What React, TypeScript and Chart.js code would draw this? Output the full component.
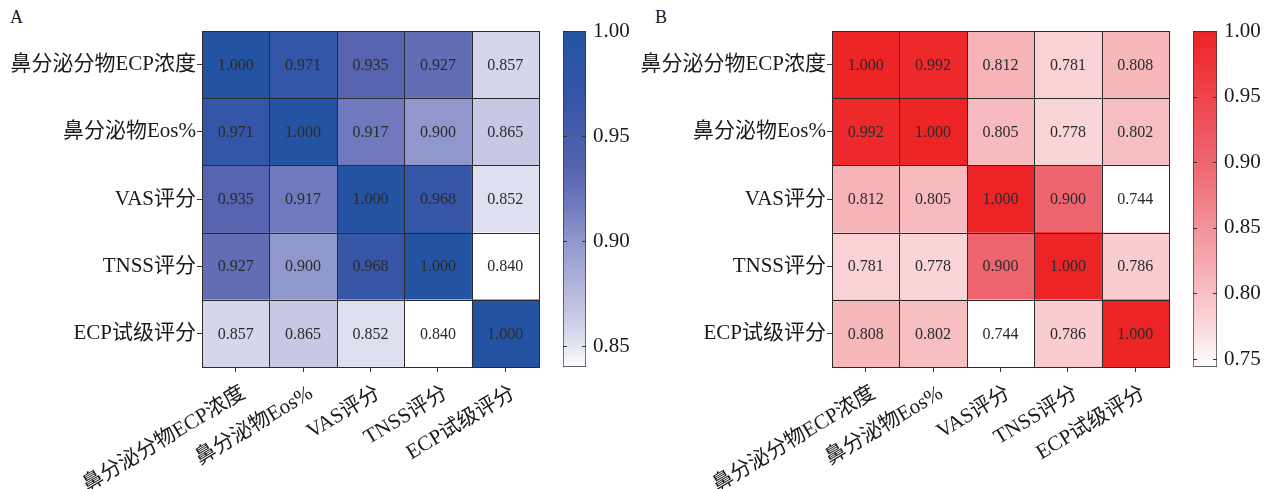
import React, { useEffect, useRef } from "react";
import { Chart, registerables } from "chart.js";

Chart.register(...registerables);

// ---------- data ----------
const rowLabels = ["鼻分泌分物ECP浓度", "鼻分泌物Eos%", "VAS评分", "TNSS评分", "ECP试级评分"];
const colLabels = ["鼻分泌分物ECP浓度", "鼻分泌物Eos%", "VAS评分", "TNSS评分", "ECP试级评分"];

const corrA = [
  [1.0, 0.971, 0.935, 0.927, 0.857],
  [0.971, 1.0, 0.917, 0.9, 0.865],
  [0.935, 0.917, 1.0, 0.968, 0.852],
  [0.927, 0.9, 0.968, 1.0, 0.84],
  [0.857, 0.865, 0.852, 0.84, 1.0],
];
const corrB = [
  [1.0, 0.992, 0.812, 0.781, 0.808],
  [0.992, 1.0, 0.805, 0.778, 0.802],
  [0.812, 0.805, 1.0, 0.9, 0.744],
  [0.781, 0.778, 0.9, 1.0, 0.786],
  [0.808, 0.802, 0.744, 0.786, 1.0],
];

const rangeA = [0.84, 1.0];
const rangeB = [0.744, 1.0];
const colorbarTicksA = [0.85, 0.9, 0.95, 1.0];
const colorbarTicksB = [0.75, 0.8, 0.85, 0.9, 0.95, 1.0];

const stopsA: [number, string][] = [
  [0, "#ffffff"],
  [0.08, "#dcdeef"],
  [0.16, "#c5c7e3"],
  [0.38, "#8f96cd"],
  [0.48, "#7079bd"],
  [0.6, "#5563ae"],
  [0.8, "#3656a8"],
  [1, "#2453a3"],
];
const stopsB: [number, string][] = [
  [0, "#ffffff"],
  [0.14, "#fad3d4"],
  [0.27, "#f6b3b8"],
  [0.61, "#ee6570"],
  [1, "#ed2426"],
];

// ---------- helpers ----------
const FONT_FAMILY = "'Liberation Serif', 'Times New Roman', 'Noto Sans CJK SC', serif";

function hexToRgb(h: string) {
  const n = parseInt(h.slice(1), 16);
  return [(n >> 16) & 255, (n >> 8) & 255, n & 255];
}
function colorAt(stops: [number, string][], t: number) {
  t = Math.max(0, Math.min(1, t));
  for (let i = 1; i < stops.length; i++) {
    if (t <= stops[i][0]) {
      const [t0, c0] = stops[i - 1];
      const [t1, c1] = stops[i];
      const f = (t - t0) / (t1 - t0 || 1);
      const a = hexToRgb(c0);
      const b = hexToRgb(c1);
      const c = a.map((v, k) => Math.round(v + (b[k] - v) * f));
      return `rgb(${c[0]},${c[1]},${c[2]})`;
    }
  }
  return stops[stops.length - 1][1];
}

const cellPlugin = {
  id: "cellPlugin",
  afterDatasetsDraw(chart: any) {
    const ctx = chart.ctx;
    ctx.save();
    chart.data.datasets.forEach((ds: any, di: number) => {
      const meta = chart.getDatasetMeta(di);
      meta.data.forEach((el: any, i: number) => {
        const p = el.getProps(["x", "y", "base", "height"], true);
        const l = Math.min(p.x, p.base);
        const r = Math.max(p.x, p.base);
        const t = p.y - p.height / 2;
        const b = p.y + p.height / 2;
        ctx.strokeStyle = "#2b2b2b";
        ctx.lineWidth = 1;
        ctx.strokeRect(Math.round(l) + 0.5, Math.round(t) + 0.5, Math.round(r) - Math.round(l), Math.round(b) - Math.round(t));
        ctx.fillStyle = "#2a2a2a";
        ctx.font = `16px ${FONT_FAMILY}`;
        ctx.textAlign = "center";
        ctx.textBaseline = "middle";
        ctx.fillText(ds.values[i].toFixed(3), (l + r) / 2, p.y + 1);
      });
    });
    ctx.restore();
  },
};

function makeHeatmap(canvas: HTMLCanvasElement, matrix: number[][], stops: [number, string][], range: number[]) {
  const datasets = colLabels.map((_, j) => {
    const values = matrix.map((row) => row[j]);
    return {
      label: colLabels[j],
      data: rowLabels.map(() => 1),
      values,
      backgroundColor: values.map((v) => colorAt(stops, (v - range[0]) / (range[1] - range[0]))),
      borderWidth: 0,
      barPercentage: 1,
      categoryPercentage: 1,
    };
  });
  return new Chart(canvas, {
    type: "bar",
    data: { labels: rowLabels, datasets } as any,
    plugins: [cellPlugin],
    options: {
      indexAxis: "y",
      animation: false,
      responsive: false,
      devicePixelRatio: 1,
      layout: { padding: { top: 31, right: 6, left: 0, bottom: 0 } },
      plugins: { legend: { display: false }, tooltip: { enabled: false } },
      scales: {
        x: {
          type: "linear",
          stacked: true,
          min: 0,
          max: colLabels.length,
          afterBuildTicks: (s: any) => {
            s.ticks = colLabels.map((_, i) => ({ value: i + 0.5 }));
          },
          ticks: {
            autoSkip: false,
            minRotation: 31,
            maxRotation: 31,
            padding: 9,
            labelOffset: 8,
            color: "#1a1a1a",
            font: { size: 21, family: FONT_FAMILY },
            callback: (_v: any, i: number) => colLabels[i],
          },
          grid: { drawOnChartArea: false, drawTicks: true, tickLength: 5, color: "#333" },
          border: { display: false },
          afterFit: (s: any) => {
            s.height = 122;
          },
        },
        y: {
          type: "category",
          stacked: true,
          offset: true,
          ticks: { padding: 1, color: "#1a1a1a", font: { size: 21, family: FONT_FAMILY } },
          grid: { offset: false, drawOnChartArea: false, drawTicks: true, tickLength: 5, color: "#333" },
          border: { display: false },
          afterFit: (s: any) => {
            s.width = 202;
          },
        },
      },
    } as any,
  });
}

const colorbarTickPlugin = {
  id: "colorbarTickPlugin",
  afterDatasetsDraw(chart: any) {
    const ctx = chart.ctx;
    const y = chart.scales.y;
    const ca = chart.chartArea;
    ctx.save();
    ctx.strokeStyle = "#333";
    ctx.lineWidth = 1;
    y.ticks.forEach((t: any) => {
      const py = Math.round(y.getPixelForValue(t.value)) + 0.5;
      ctx.beginPath();
      ctx.moveTo(ca.left, py);
      ctx.lineTo(ca.left + 4, py);
      ctx.moveTo(ca.right - 4, py);
      ctx.lineTo(ca.right, py);
      ctx.stroke();
    });
    ctx.restore();
  },
};

function makeColorbar(canvas: HTMLCanvasElement, stops: [number, string][], range: number[], tickVals: number[], axisWidth: number) {
  return new Chart(canvas, {
    type: "bar",
    data: {
      labels: ["scale"],
      datasets: [
        {
          data: [[range[0], range[1]]],
          backgroundColor: (c: any) => {
            const chart = c.chart;
            const ys = chart.scales.y;
            if (!chart.chartArea || !ys) return stops[stops.length - 1][1];
            const g = chart.ctx.createLinearGradient(0, ys.getPixelForValue(range[0]), 0, ys.getPixelForValue(range[1]));
            stops.forEach(([t, col]) => g.addColorStop(t, col));
            return g;
          },
          borderColor: "#333",
          borderWidth: 1,
          borderSkipped: false,
          barPercentage: 1,
          categoryPercentage: 1,
        },
      ],
    } as any,
    plugins: [colorbarTickPlugin],
    options: {
      animation: false,
      responsive: false,
      devicePixelRatio: 1,
      layout: { padding: { top: 31, left: 18, bottom: 122, right: 0 } },
      plugins: { legend: { display: false }, tooltip: { enabled: false } },
      scales: {
        x: { display: false, offset: true },
        y: {
          position: "right",
          min: range[0],
          max: range[1],
          afterBuildTicks: (s: any) => {
            s.ticks = tickVals.map((v) => ({ value: v }));
          },
          ticks: {
            padding: 7,
            color: "#1a1a1a",
            font: { size: 21, family: FONT_FAMILY },
            callback: (v: any) => Number(v).toFixed(2),
          },
          grid: { display: false, drawTicks: false },
          border: { display: false },
          afterFit: (s: any) => {
            s.width = axisWidth;
          },
        },
      },
    } as any,
  });
}

export default function App() {
  const hA = useRef<HTMLCanvasElement>(null);
  const cA = useRef<HTMLCanvasElement>(null);
  const hB = useRef<HTMLCanvasElement>(null);
  const cB = useRef<HTMLCanvasElement>(null);

  useEffect(() => {
    const charts = [
      makeHeatmap(hA.current!, corrA, stopsA, rangeA),
      makeColorbar(cA.current!, stopsA, rangeA, colorbarTicksA, 59),
      makeHeatmap(hB.current!, corrB, stopsB, rangeB),
      makeColorbar(cB.current!, stopsB, rangeB, colorbarTicksB, 62),
    ];
    return () => charts.forEach((c) => c.destroy());
  }, []);

  const abs = (left: number, width: number): React.CSSProperties => ({
    position: "absolute",
    left,
    top: 0,
    width,
    height: 489,
  });

  const letter: React.CSSProperties = {
    position: "absolute",
    top: 7,
    fontFamily: FONT_FAMILY,
    fontSize: 18,
    color: "#1a1a1a",
    lineHeight: "20px",
  };

  return (
    <div style={{ position: "fixed", left: 0, top: 0, width: 1279, height: 489, background: "#fff", overflow: "hidden" }}>
      <div style={{ ...letter, left: 10 }}>A</div>
      <div style={{ ...letter, left: 655 }}>B</div>
      <canvas ref={hA} width={545} height={489} style={abs(0, 545)} />
      <canvas ref={cA} width={100} height={489} style={abs(545, 100)} />
      <canvas ref={hB} width={545} height={489} style={abs(630, 545)} />
      <canvas ref={cB} width={104} height={489} style={abs(1175, 104)} />
    </div>
  );
}
